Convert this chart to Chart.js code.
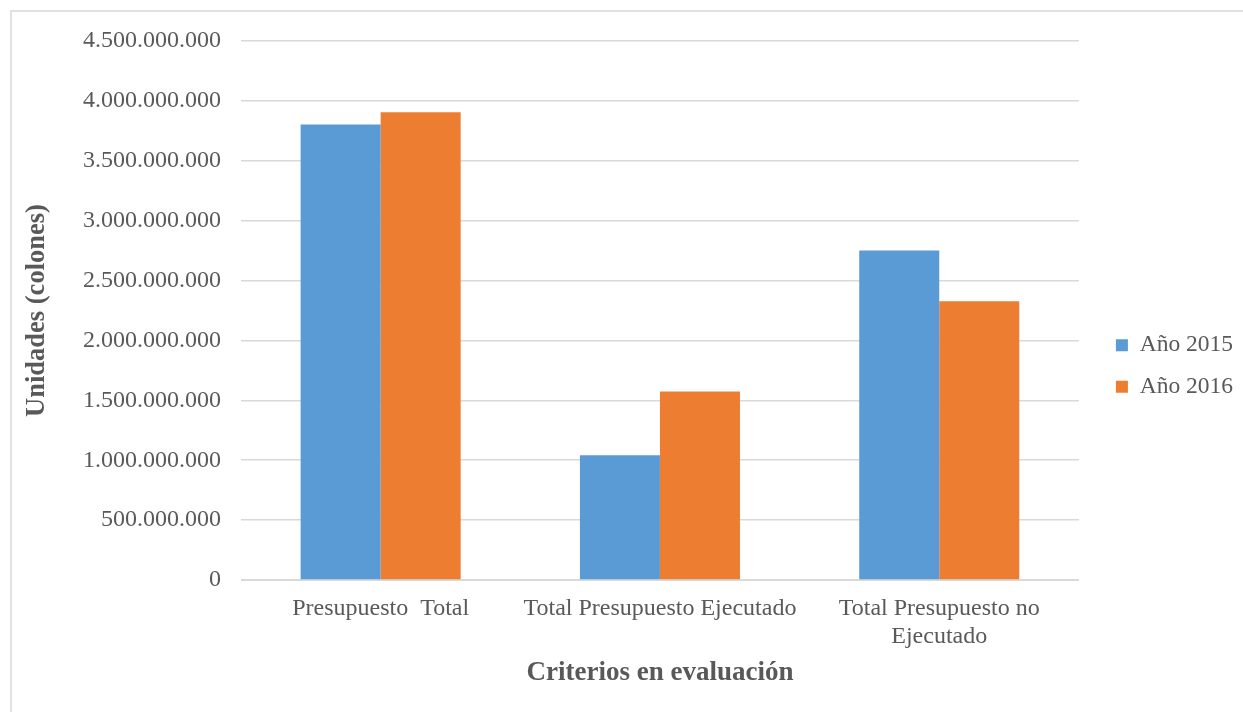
<!DOCTYPE html>
<html>
<head>
<meta charset="utf-8">
<script src="https://cdn.jsdelivr.net/npm/chart.js@4.4.0/dist/chart.umd.min.js"></script>
<style>
  body { margin: 0; background: #fff; }
  #wrap { width: 1243px; height: 712px; }
</style>
</head>
<body>
<div id="wrap"><canvas id="myChart" width="1243" height="712"></canvas></div>
<script>
const categories = [
  'Presupuesto  Total',
  'Total Presupuesto Ejecutado',
  ['Total Presupuesto no', 'Ejecutado']
];
const years = ['Año 2015', 'Año 2016'];
const values2015 = [3802000000, 1042000000, 2750000000];
const values2016 = [3906000000, 1573000000, 2327000000];

const serif = "'Liberation Serif', 'Times New Roman', serif";
const gray = '#595959';

// thousands separated with dots, like the original
function fmt(v) {
  return String(Math.round(v)).replace(/\B(?=(\d{3})+(?!\d))/g, '.');
}

const frame = {
  id: 'frame',
  beforeDraw(chart) {
    const c = chart.ctx;
    c.save();
    c.fillStyle = '#fff';
    c.fillRect(0, 0, chart.width, chart.height);
    c.strokeStyle = '#d9d9d9';
    c.lineWidth = 1.5;
    c.beginPath();
    c.moveTo(11, chart.height);
    c.lineTo(11, 11);
    c.lineTo(chart.width, 11);
    c.stroke();
    c.restore();
  }
};

const ctx = document.getElementById('myChart').getContext('2d');
const myChart = new Chart(ctx, {
  type: 'bar',
  data: {
    labels: categories,
    datasets: [{
      label: years[0],
      data: values2015,
      backgroundColor: '#5B9BD5'
    }, {
      label: years[1],
      data: values2016,
      backgroundColor: '#ED7D31'
    }]
  },
  options: {
    responsive: false,
    animation: false,
    categoryPercentage: 0.573,
    barPercentage: 1,
    layout: {
      padding: { left: 0, top: 41, right: 0, bottom: 21 }
    },
    plugins: {
      legend: {
        position: 'right',
        align: 'center',
        labels: {
          boxWidth: 12,
          boxHeight: 12,
          padding: 18,
          color: gray,
          font: { family: serif, size: 23.5 }
        }
      },
      tooltip: { enabled: false }
    },
    scales: {
      x: {
        grid: { display: false, drawTicks: false },
        border: { display: true, color: '#d9d9d9' },
        ticks: {
          color: gray,
          padding: 15,
          maxRotation: 0,
          autoSkip: false,
          font: { family: serif, size: 24, lineHeight: 1.167 }
        },
        title: {
          display: true,
          text: 'Criterios en evaluación',
          color: gray,
          font: { family: serif, size: 27, weight: 'bold' },
          padding: { top: 0, bottom: 2 }
        },
        afterFit(scale) { scale.height = 111; }
      },
      y: {
        min: 0,
        max: 4500000000,
        grid: { color: '#d9d9d9', lineWidth: 1.5, drawTicks: false },
        border: { display: false },
        ticks: {
          stepSize: 500000000,
          color: gray,
          padding: 20,
          font: { family: serif, size: 24 },
          callback: (v) => fmt(v)
        },
        title: {
          display: true,
          text: 'Unidades (colones)',
          color: gray,
          font: { family: serif, size: 26.5, weight: 'bold' },
          padding: { top: 21, bottom: 0 }
        },
        afterFit(scale) { scale.width = 241; }
      },
      // empty spacer between the plot and the legend
      gap: {
        position: 'right',
        display: true,
        grid: { display: false, drawTicks: false },
        border: { display: false },
        ticks: { display: false },
        afterFit(scale) { scale.width = 19; }
      }
    }
  },
  plugins: [frame]
});
</script>
</body>
</html>
